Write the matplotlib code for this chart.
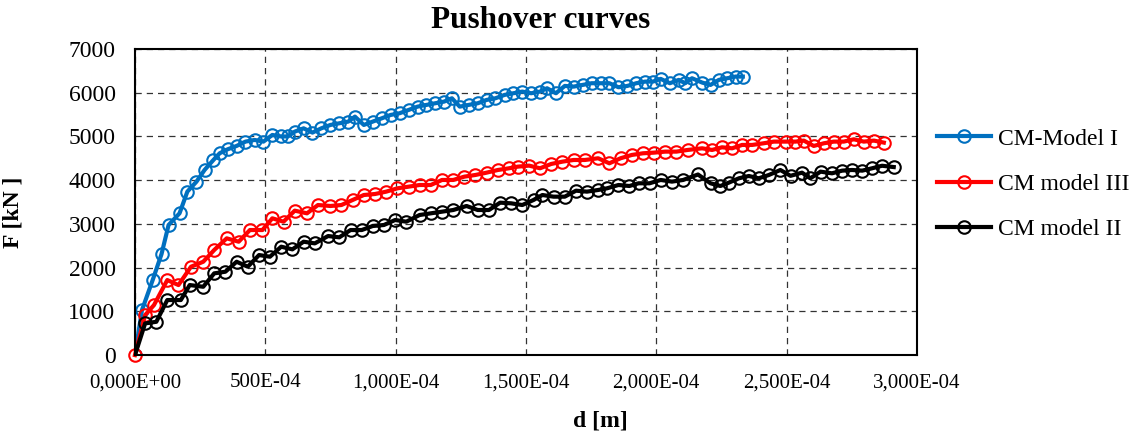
import matplotlib
matplotlib.use("Agg")
import matplotlib.pyplot as plt

plt.rcParams['font.family'] = ['Liberation Serif', 'DejaVu Serif']

# pushover curve data (d in tick units of E-04, F in kN)
blue_d = [0, 27, 68, 102, 129, 171, 201, 236, 267, 301, 325, 356, 390, 424, 459,
          493, 527, 561, 587, 613, 647, 681, 715, 750, 784, 818, 844, 878, 912, 947,
          981, 1015, 1050, 1084, 1118, 1152, 1186, 1216, 1246, 1280, 1315, 1349, 1383,
          1418, 1452, 1486, 1520, 1554, 1581, 1615, 1649, 1683, 1717, 1752, 1786, 1820,
          1855, 1889, 1923, 1957, 1987, 2017, 2052, 2086, 2111, 2137, 2176, 2208, 2240,
          2272, 2304, 2332]
blue_F = [0, 1030, 1716, 2311, 2975, 3242, 3738, 3966, 4233, 4462, 4615, 4707, 4783, 4882, 4920,
          4882, 5034, 5000, 5000, 5110, 5186, 5088, 5186, 5263, 5301, 5339, 5453, 5263, 5339, 5415,
          5492, 5530, 5606, 5682, 5721, 5759, 5797, 5873, 5682, 5721, 5759, 5835, 5873,
          5950, 5988, 6026, 5988, 6026, 6102, 5988, 6155, 6140, 6178, 6217, 6217, 6217,
          6125, 6155, 6217, 6254, 6254, 6316, 6217, 6293, 6217, 6331, 6232, 6178, 6293,
          6331, 6369, 6369]

red_d = [0, 39, 73, 124, 167, 215, 262, 304, 352, 398, 441, 489, 527, 570, 613,
         660, 702, 750, 792, 835, 878, 921, 964, 1007, 1050, 1092, 1135, 1178, 1221, 1264,
         1306, 1349, 1392, 1435, 1469, 1512, 1554, 1597, 1640, 1683, 1726, 1777, 1820, 1863,
         1906, 1949, 1992, 2034, 2077, 2120, 2176, 2214, 2252, 2291, 2329, 2368, 2412, 2451,
         2496, 2534, 2566, 2604, 2643, 2681, 2719, 2758, 2796, 2835, 2873]
red_F = [0, 915, 1144, 1716, 1602, 2021, 2135, 2403, 2670, 2593, 2860, 2860, 3128, 3051, 3303,
         3242, 3432, 3410, 3432, 3547, 3661, 3684, 3738, 3814, 3852, 3890, 3890, 4005, 4005, 4081,
         4119, 4172, 4233, 4272, 4310, 4333, 4272, 4371, 4424, 4462, 4462, 4501, 4386, 4501,
         4577, 4615, 4630, 4653, 4653, 4691, 4729, 4691, 4752, 4729, 4806, 4806, 4844, 4882,
         4882, 4882, 4905, 4783, 4844, 4882, 4882, 4935, 4882, 4905, 4859]

black_d = [0, 39, 82, 124, 176, 210, 262, 304, 347, 390, 433, 476, 518, 561, 604,
           647, 690, 741, 784, 827, 870, 912, 955, 998, 1041, 1092, 1135, 1178, 1221, 1272,
           1315, 1358, 1401, 1443, 1486, 1529, 1563, 1606, 1649, 1692, 1734, 1777, 1811, 1855,
           1897, 1932, 1974, 2017, 2060, 2103, 2160, 2208, 2246, 2278, 2317, 2355, 2393, 2432,
           2476, 2515, 2559, 2591, 2630, 2674, 2713, 2751, 2790, 2828, 2866, 2911]
black_F = [0, 725, 762, 1259, 1259, 1602, 1563, 1869, 1907, 2135, 2021, 2288, 2250, 2479, 2418,
           2593, 2555, 2723, 2693, 2860, 2860, 2952, 2975, 3089, 3051, 3204, 3242, 3280, 3318, 3410,
           3318, 3318, 3486, 3471, 3432, 3547, 3661, 3623, 3623, 3760, 3738, 3776, 3814, 3890,
           3867, 3929, 3929, 4005, 3967, 4005, 4130, 3929, 3867, 3943, 4043, 4096, 4043, 4119,
           4233, 4100, 4172, 4043, 4195, 4157, 4218, 4233, 4218, 4272, 4330, 4300]

x_ticks = [0, 500, 1000, 1500, 2000, 2500, 3000]
x_labels = ['0,000E+00', '500E-04', '1,000E-04', '1,500E-04', '2,000E-04', '2,500E-04', '3,000E-04']

fig = plt.figure(figsize=(11.34, 4.32), dpi=100)
ax = fig.add_axes([0.119, 0.178, 0.6896, 0.7086])

style = dict(marker='o', markersize=9, markerfacecolor='none', markeredgewidth=1.5, linewidth=3)
ax.plot(blue_d, blue_F, color='#0070C0', label='CM-Model I', **style)
ax.plot(red_d, red_F, color='#FF0000', label='CM model III', clip_on=False, **style)
ax.plot(black_d, black_F, color='black', label='CM model II', markevery=slice(1, None), **style)

ax.set_xlim(0, 3000)
ax.set_ylim(0, 7000)
ax.set_xticks(x_ticks)
ax.set_xticklabels(x_labels)
ax.set_yticks(range(0, 7001, 1000))
ax.tick_params(axis='x', length=0, pad=13, labelsize=15)
ax.tick_params(axis='y', length=0, pad=14, labelsize=17)
ax.grid(True, color='#333333', linestyle=(0, (5, 4)), linewidth=0.9)
for s in ax.spines.values():
    s.set_linewidth(1.5)

ax.set_xlabel('d [m]', fontsize=17, fontweight='bold')
ax.xaxis.set_label_coords(0.595, -0.18)
ax.set_ylabel('F [kN ]', fontsize=17, fontweight='bold')
ax.yaxis.set_label_coords(-0.143, 0.467)

fig.text(541 / 1134, 1 - 21 / 432, 'Pushover curves', fontsize=22.5, fontweight='bold',
         ha='center', va='center')

fig.legend(loc='center left', bbox_to_anchor=(0.826, 0.574), frameon=False, fontsize=17,
           handlelength=2.3, labelspacing=1.0, borderpad=0, borderaxespad=0, handletextpad=0.3)

fig.savefig('out.png', dpi=100)
